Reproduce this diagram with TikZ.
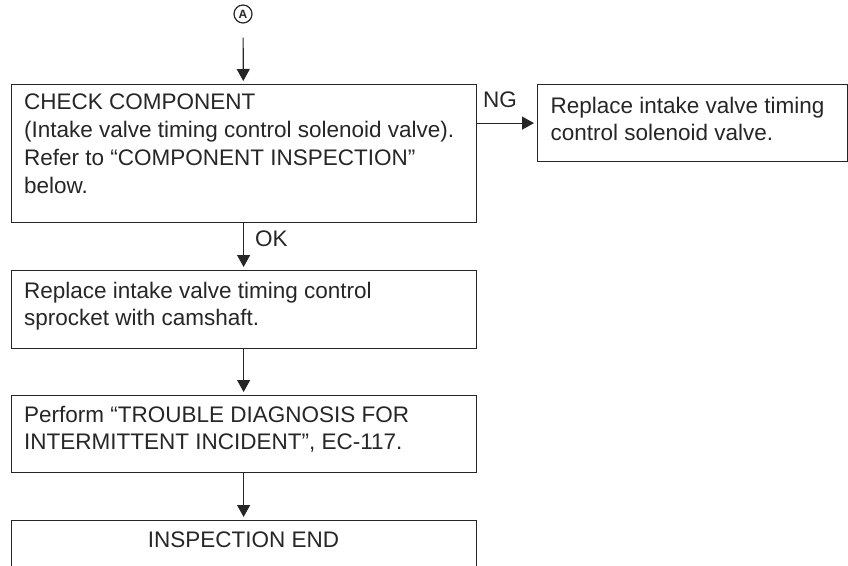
\documentclass[tikz,border=0pt]{standalone}
\usepackage{fontspec}
\setmainfont{Liberation Sans}
\usetikzlibrary{arrows.meta}
\definecolor{ink}{gray}{0.15}
\newcommand{\flowtext}[5]{\parbox[t][#1][t]{#2}{#4\rule{0pt}{#3}#5}}
\begin{document}
\begin{tikzpicture}[x=1pt,y=-1pt,
  box/.style={draw=ink, line width=1.2pt, inner xsep=13pt, inner ysep=0pt,
    anchor=north west, text=ink, font=\fontsize{22.5pt}{27pt}\selectfont},
  widebox/.style={box, font=\fontsize{22.5pt}{28pt}\selectfont},
  arr/.style={draw=ink, line width=1.2pt, -{Triangle[length=12pt,width=13pt]}, shorten >=3pt},
  lbl/.style={text=ink, inner sep=0pt, anchor=base west, font=\fontsize{22.5pt}{27pt}\selectfont},
  connector/.style={circle, draw=ink, line width=1.2pt, minimum size=18pt, inner sep=0pt,
    text=ink, font=\bfseries\fontsize{12pt}{12pt}\selectfont}]
\path[use as bounding box] (0,0) rectangle (848,565);
\clip (0,0) rectangle (848,565);

\node[connector] (A) at (243,14) {A};

\node[widebox] (b1) at (10.5,84) {\flowtext{138pt}{439pt}{25pt}{\raggedright}{CHECK COMPONENT\\(Intake valve timing control solenoid valve).\\Refer to “COMPONENT INSPECTION”\\below.}};

\node[box] (bR) at (537,84) {\flowtext{77pt}{284pt}{29pt}{\raggedright}{Replace intake valve timing\\control solenoid valve.}};

\node[box] (b2) at (10.5,270) {\flowtext{78pt}{439pt}{27.5pt}{\raggedright}{Replace intake valve timing control\\sprocket with camshaft.}};

\node[box] (b3) at (10.5,395) {\flowtext{77pt}{439pt}{26.7pt}{\raggedright}{Perform “TROUBLE DIAGNOSIS FOR\\INTERMITTENT INCIDENT”, EC-117.}};

\node[box] (b4) at (10.5,520) {\flowtext{80pt}{439pt}{26.5pt}{\centering}{INSPECTION END}};

\node[lbl] (ng) at (483,107) {NG};
\node[lbl] (ok) at (255,246) {OK};

\draw[arr, shorten <=14pt] (A) -- (b1);
\draw[arr] (b1.east |- bR.west) -- (bR.west);
\draw[arr] (b1) -- (b2);
\draw[arr] (b2) -- (b3);
\draw[arr] (b3) -- (b4);
\end{tikzpicture}
\end{document}
